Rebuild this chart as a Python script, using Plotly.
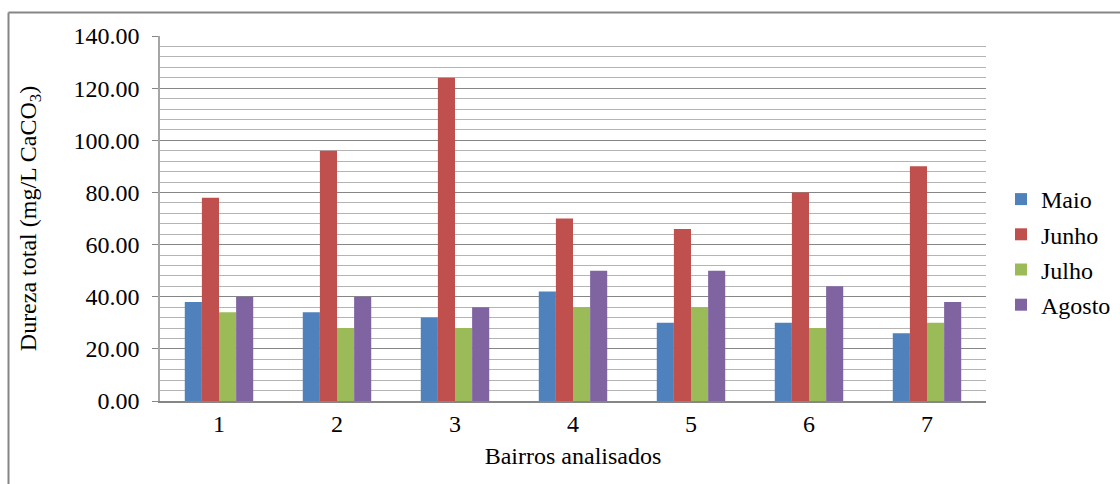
import plotly.graph_objects as go

# Dureza total por bairro e mês
bairros = ["1", "2", "3", "4", "5", "6", "7"]
maio = [38, 34, 32, 42, 30, 30, 26]
junho = [78, 96, 124, 70, 66, 80, 90]
julho = [34, 28, 28, 36, 36, 28, 30]
agosto = [40, 40, 36, 50, 50, 44, 38]

series = [
    ("Maio", maio, "#4f81bd"),
    ("Junho", junho, "#c0504d"),
    ("Julho", julho, "#9bbb59"),
    ("Agosto", agosto, "#8064a2"),
]

W, H = 1120, 484
ML, MR, MT, MB = 160, 134, 36, 83
PW, PH = W - ML - MR, H - MT - MB

fig = go.Figure()
for name, vals, color in series:
    fig.add_trace(go.Bar(
        x=bairros, y=vals, name=name, legendgroup=name,
        marker=dict(color=color, line=dict(width=0)),
    ))


def px_x(p):
    return (p - ML) / PW


def px_y(p):
    return (H - MB - p) / PH


# outer chart frame (left and top edges)
frame = dict(color="#868686", width=2)
fig.add_shape(type="line", xref="paper", yref="paper",
              x0=px_x(8.5), x1=px_x(8.5), y0=px_y(12.5), y1=px_y(H + 5), line=frame)
fig.add_shape(type="line", xref="paper", yref="paper",
              x0=px_x(8.5), x1=px_x(W + 5), y0=px_y(12.5), y1=px_y(12.5), line=frame)

font_family = "Liberation Serif"

fig.update_layout(
    width=W, height=H,
    margin=dict(l=ML, r=MR, t=MT, b=MB, autoexpand=False),
    paper_bgcolor="white", plot_bgcolor="white",
    barmode="group", bargap=0.42, bargroupgap=0,
    font=dict(family=font_family, size=24, color="#000000"),
    legend=dict(
        x=px_x(1001), y=px_y(252), xanchor="left", yanchor="middle",
        font=dict(family=font_family, size=24), tracegroupgap=1, itemwidth=30,
        bgcolor="rgba(0,0,0,0)",
    ),
    xaxis=dict(
        title=dict(text="Bairros analisados", font=dict(family=font_family, size=24), standoff=12),
        showline=True, linecolor="#868686", linewidth=1.5,
        ticks="", showgrid=False, tickfont=dict(family=font_family, size=24),
    ),
    yaxis=dict(
        title=dict(text="Dureza total (mg/L CaCO<sub>3</sub>)",
                   font=dict(family=font_family, size=24), standoff=30),
        range=[0, 140], dtick=20, tickformat=".2f",
        showline=True, linecolor="#a6a6a6", linewidth=1.5,
        ticks="outside", ticklen=6, tickcolor="#868686", ticklabelstandoff=8,
        showgrid=True, gridcolor="#868686", gridwidth=1,
        minor=dict(dtick=4, showgrid=True, gridcolor="#b4b4b4", gridwidth=1),
        zeroline=False, tickfont=dict(family=font_family, size=24),
    ),
)

fig.write_html("out.html")
